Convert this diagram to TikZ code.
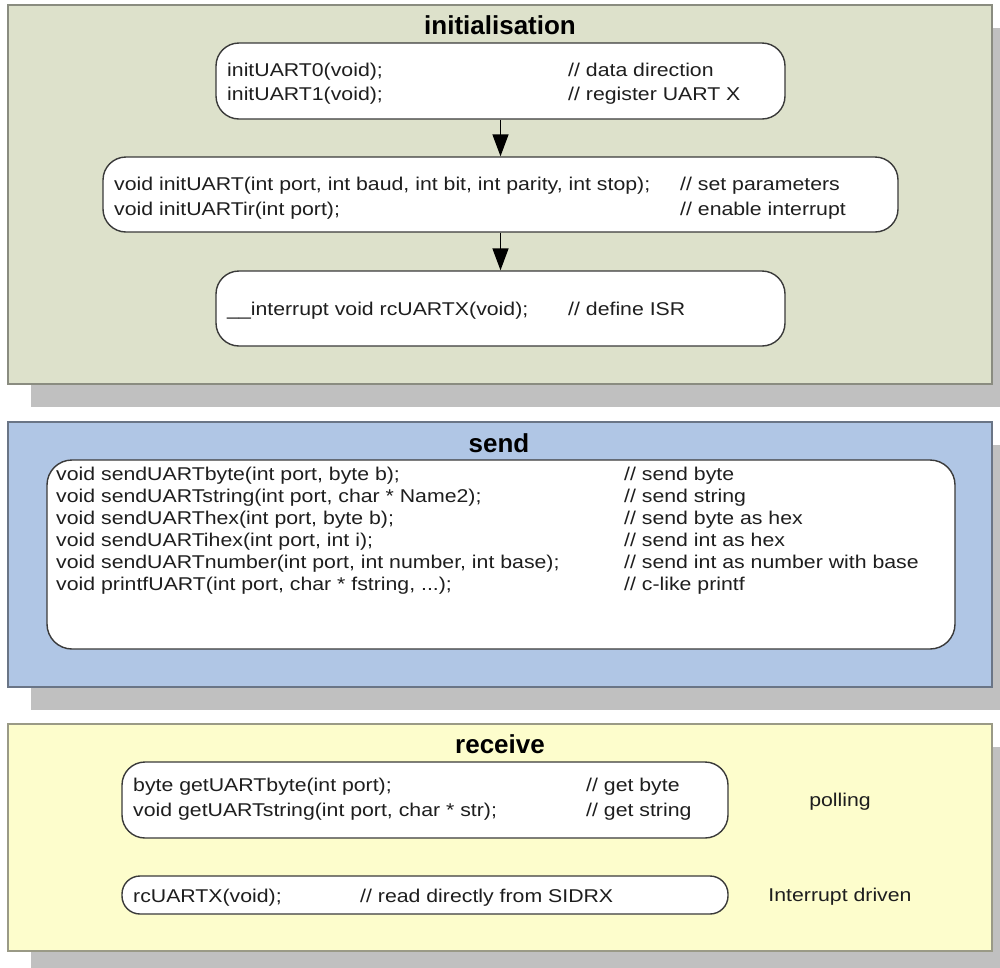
\documentclass[tikz,border=0pt]{standalone}
\usepackage{fontspec}
\setmainfont{Liberation Sans}[FakeStretch=1.15]
\newfontfamily\headfont{Liberation Sans}
\usetikzlibrary{arrows.meta,shadows}

\definecolor{initfill}{HTML}{DDE1CB}
\definecolor{sendfill}{HTML}{B0C6E5}
\definecolor{recvfill}{HTML}{FDFDCC}
\definecolor{initedge}{HTML}{8A8C80}
\definecolor{sendedge}{HTML}{6A7586}
\definecolor{recvedge}{HTML}{9A9A86}
\definecolor{shadowgray}{HTML}{C0C0C0}
\definecolor{boxedge}{HTML}{3A3A3A}
\definecolor{txt}{HTML}{1E1E1E}

\tikzset{
  panel/.style={rectangle, line width=1.2pt, inner sep=0pt, minimum width=984pt,
    drop shadow={shadow xshift=23pt, shadow yshift=-23pt, fill=shadowgray, opacity=1}},
  codebox/.style={rectangle, draw=boxedge, fill=white, line width=1.4pt,
    rounded corners=23pt, inner sep=0pt},
  code/.style={anchor=base west, inner sep=0pt, text=txt,
    font=\fontsize{18.5}{22}\selectfont},
  label/.style={anchor=base, inner sep=0pt, text=txt,
    font=\fontsize{18.5}{22}\selectfont},
  heading/.style={anchor=base, inner sep=0pt, text=black,
    font=\headfont\bfseries\fontsize{26}{30}\selectfont},
  flow/.style={line width=1.5pt, black, -{Triangle[width=16pt,length=22pt]}}
}

\begin{document}
\begin{tikzpicture}[x=1pt,y=-1pt]
\useasboundingbox (0,0) rectangle (1000,967);
\clip (0,0) rectangle (1000,967);

% ---------- initialisation ----------
\node[panel, draw=initedge, fill=initfill, minimum height=379pt] (p1) at (500,194.5) {};
\node[heading] (t1) at (500,34) {initialisation};

\node[codebox, minimum width=569pt, minimum height=76pt] (a1) at (500.5,81) {};
\node[code] (a1c1) at (227,76) {initUART0(void);};
\node[code] (a1m1) at (568,76) {// data direction};
\node[code] (a1c2) at (227,100.5) {initUART1(void);};
\node[code] (a1m2) at (568,100.5) {// register UART X};

\node[codebox, minimum width=795pt, minimum height=75pt] (a2) at (500.5,194.5) {};
\node[code] (a2c1) at (114,190) {void initUART(int port, int baud, int bit, int parity, int stop);};
\node[code] (a2m1) at (680,190) {// set parameters};
\node[code] (a2c2) at (114,215) {void initUARTir(int port);};
\node[code] (a2m2) at (680,215) {// enable interrupt};

\node[codebox, minimum width=569pt, minimum height=75pt] (a3) at (500.5,308.5) {};
\node[code] (a3c1) at (227,315) {\_\_interrupt void rcUARTX(void);};
\node[code] (a3m1) at (568,315) {// define ISR};

\draw[flow] (a1.south) -- (a2.north);
\draw[flow] (a2.south) -- (a3.north);

% ---------- send ----------
\node[panel, draw=sendedge, fill=sendfill, minimum height=265pt] (p2) at (500,554.5) {};
\node[heading] (t2) at (499,452) {send};

\node[codebox, rounded corners=25pt, minimum width=908pt, minimum height=189pt] (sb) at (501,554.5) {};
\node[code] (sc1) at (56,480) {void sendUARTbyte(int port, byte b);};
\node[code] (sm1) at (624,480) {// send byte};
\node[code] (sc2) at (56,502) {void sendUARTstring(int port, char * Name2);};
\node[code] (sm2) at (624,502) {// send string};
\node[code] (sc3) at (56,524) {void sendUARThex(int port, byte b);};
\node[code] (sm3) at (624,524) {// send byte as hex};
\node[code] (sc4) at (56,546) {void sendUARTihex(int port, int i);};
\node[code] (sm4) at (624,546) {// send int as hex};
\node[code] (sc5) at (56,568) {void sendUARTnumber(int port, int number, int base);};
\node[code] (sm5) at (624,568) {// send int as number with base};
\node[code] (sc6) at (56,590) {void printfUART(int port, char * fstring, ...);};
\node[code] (sm6) at (624,590) {// c-like printf};

% ---------- receive ----------
\node[panel, draw=recvedge, fill=recvfill, minimum height=227pt] (p3) at (500,837.5) {};
\node[heading] (t3) at (500,753) {receive};

\node[codebox, minimum width=606pt, minimum height=76pt] (r1) at (425,800) {};
\node[code] (r1c1) at (133,791.5) {byte getUARTbyte(int port);};
\node[code] (r1m1) at (586,791.5) {// get byte};
\node[code] (r1c2) at (133,816.5) {void getUARTstring(int port, char * str);};
\node[code] (r1m2) at (586,816.5) {// get string};
\node[label] (poll) at (840,806) {polling};

\node[codebox, rounded corners=18pt, minimum width=606pt, minimum height=38pt] (r2) at (425,895) {};
\node[code] (r2c1) at (133,902) {rcUARTX(void);};
\node[code] (r2m1) at (360,902) {// read directly from SIDRX};
\node[label] (irq) at (840,901) {Interrupt driven};
\end{tikzpicture}
\end{document}
